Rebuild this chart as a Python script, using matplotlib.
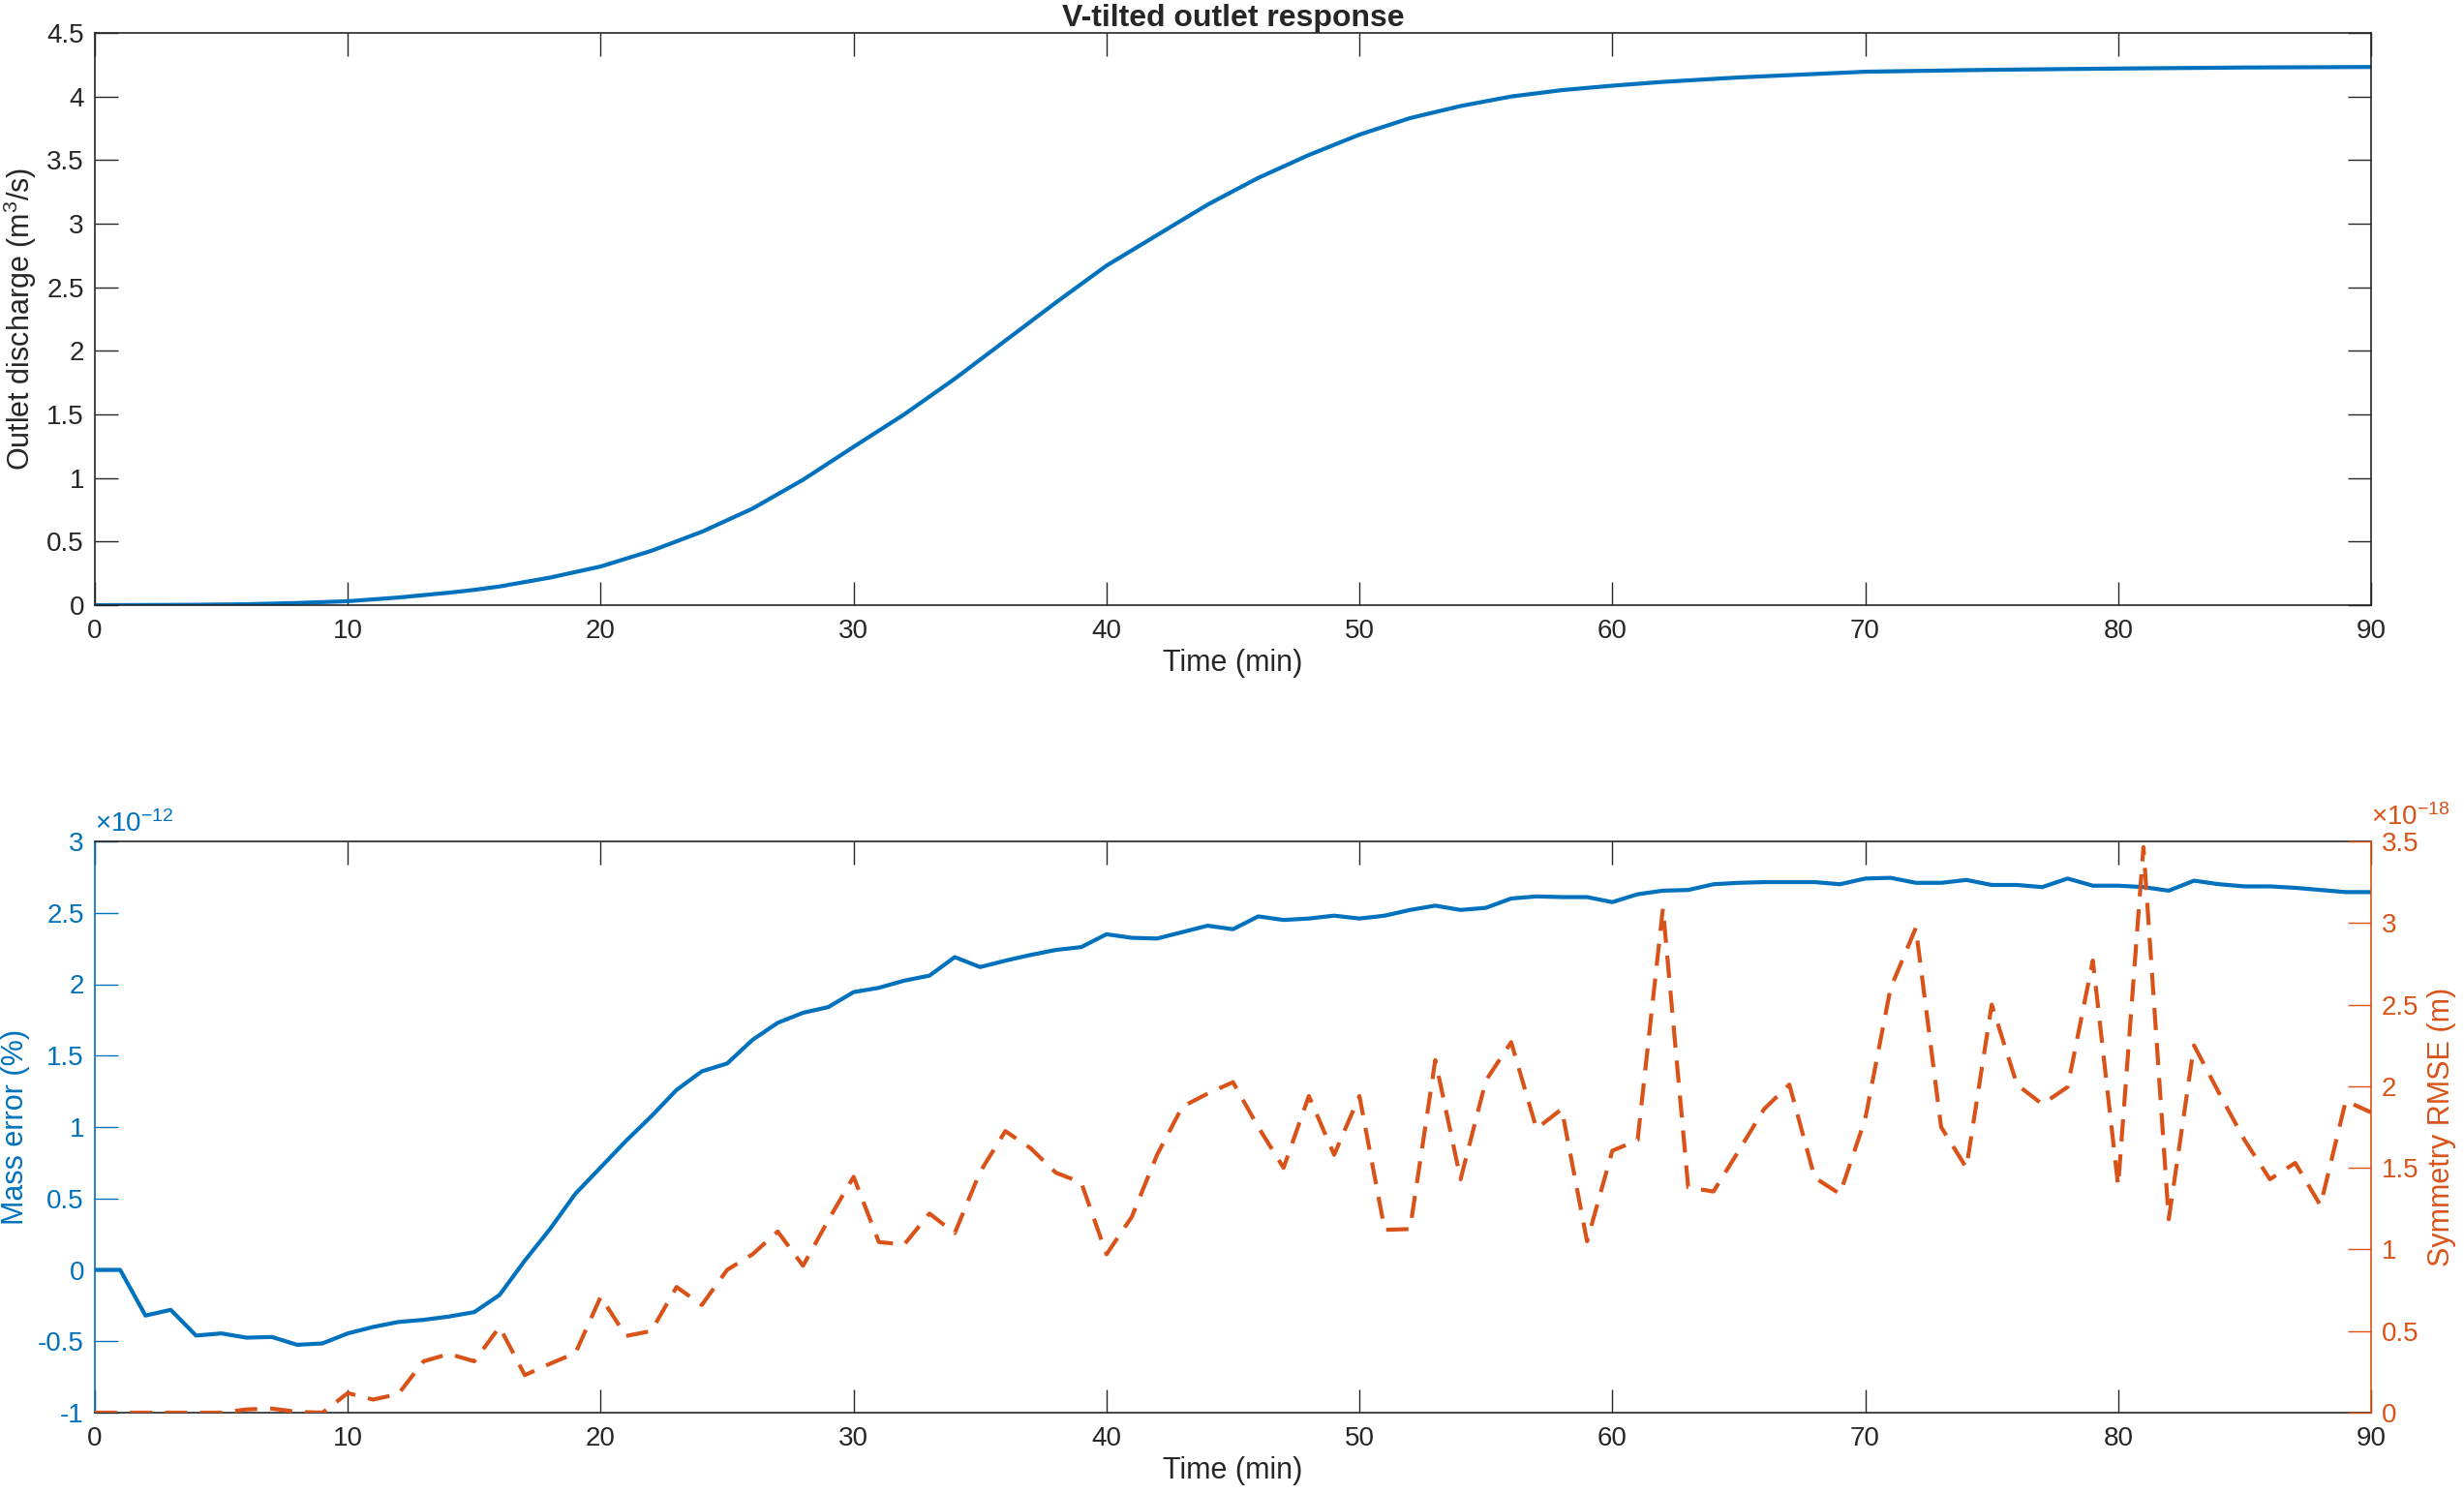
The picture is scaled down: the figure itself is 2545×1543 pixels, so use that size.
import matplotlib
matplotlib.use("Agg")
import matplotlib.pyplot as plt
import numpy as np

plt.rcParams['font.family'] = ['Liberation Sans', 'DejaVu Sans']
plt.rcParams['mathtext.fontset'] = 'custom'
plt.rcParams['mathtext.rm'] = 'Liberation Sans'
plt.rcParams['mathtext.it'] = 'Liberation Sans:italic'
plt.rcParams['axes.unicode_minus'] = False

# ---- data ----
q_time = [0, 2, 4, 6, 8, 10, 12, 14, 15, 16, 18, 20, 22, 24, 26, 28, 30, 32, 34, 36, 38,
          40, 42, 44, 46, 48, 50, 52, 54, 56, 58, 60, 62, 65, 70, 75, 80, 85, 90]
q_discharge = [0.0, 0.001, 0.003, 0.007, 0.017, 0.031, 0.06, 0.098, 0.12, 0.147, 0.217,
               0.304, 0.427, 0.577, 0.759, 0.986, 1.245, 1.50, 1.78, 2.08, 2.38,
               2.67, 2.91, 3.15, 3.36, 3.54, 3.70, 3.83, 3.925, 4.00, 4.05, 4.085, 4.115,
               4.15, 4.195, 4.21, 4.22, 4.228, 4.232]

err_time = list(range(0, 91))
mass_error_e12 = [0.0, 0.0, -0.32, -0.28, -0.46, -0.445, -0.475, -0.47, -0.525, -0.515,
                  -0.445, -0.40, -0.365, -0.35, -0.327, -0.296, -0.176, 0.065, 0.287, 0.533,
                  0.718, 0.903, 1.075, 1.26, 1.39, 1.445, 1.61, 1.73, 1.80, 1.84,
                  1.945, 1.975, 2.025, 2.06, 2.19, 2.12, 2.165, 2.205, 2.24, 2.26,
                  2.35, 2.325, 2.32, 2.365, 2.41, 2.385, 2.475, 2.45, 2.46, 2.48,
                  2.46, 2.48, 2.52, 2.55, 2.52, 2.535, 2.60, 2.615, 2.61, 2.61,
                  2.575, 2.63, 2.655, 2.66, 2.70, 2.71, 2.715, 2.715, 2.715, 2.70,
                  2.74, 2.745, 2.71, 2.71, 2.73, 2.695, 2.695, 2.68, 2.74, 2.69,
                  2.69, 2.68, 2.655, 2.725, 2.70, 2.685, 2.685, 2.675, 2.66, 2.645,
                  2.645]
sym_rmse_e18 = [0.0, 0.0, 0.0, 0.0, 0.0, 0.0, 0.02, 0.025, 0.005, 0.0,
                0.12, 0.08, 0.115, 0.315, 0.36, 0.315, 0.525, 0.23, 0.30, 0.365,
                0.71, 0.47, 0.50, 0.77, 0.66, 0.875, 0.97, 1.11, 0.90, 1.18,
                1.445, 1.045, 1.03, 1.22, 1.10, 1.475, 1.725, 1.62, 1.47, 1.41,
                0.97, 1.20, 1.58, 1.875, 1.955, 2.025, 1.75, 1.50, 1.94, 1.58,
                1.94, 1.12, 1.125, 2.16, 1.43, 2.035, 2.27, 1.74, 1.86, 1.05,
                1.605, 1.67, 3.09, 1.38, 1.355, 1.605, 1.86, 2.01, 1.44, 1.34,
                1.80, 2.60, 2.97, 1.75, 1.50, 2.50, 2.01, 1.89, 1.995, 2.77,
                1.39, 3.465, 1.185, 2.25, 1.955, 1.67, 1.43, 1.53, 1.27, 1.91,
                1.84]

top_yticks = [0, 0.5, 1, 1.5, 2, 2.5, 3, 3.5, 4, 4.5]
top_ylabels = ['0', '0.5', '1', '1.5', '2', '2.5', '3', '3.5', '4', '4.5']
left_yticks = [-1, -0.5, 0, 0.5, 1, 1.5, 2, 2.5, 3]
left_ylabels = ['-1', '-0.5', '0', '0.5', '1', '1.5', '2', '2.5', '3']
right_yticks = [0, 0.5, 1, 1.5, 2, 2.5, 3, 3.5]
right_ylabels = ['0', '0.5', '1', '1.5', '2', '2.5', '3', '3.5']
xticks = [0, 10, 20, 30, 40, 50, 60, 70, 80, 90]

# ---- style ----
BLUE = '#0072BD'
ORANGE = '#D95319'
DARK = '#262626'
FS = 20
LFS = 22
TL = 17
LW = 3.0

W, H = 2545, 1543
fig = plt.figure(figsize=(W / 100, H / 100), dpi=100)

def rect(l, t, r, b):
    return [l / W, 1 - b / H, (r - l) / W, (b - t) / H]

ax1 = fig.add_axes(rect(98, 34, 2449, 625))
ax2 = fig.add_axes(rect(98, 869, 2449, 1459))

# top panel
ax1.plot(q_time, q_discharge, color=BLUE, lw=LW, solid_joinstyle='round')
ax1.set_xlim(0, 90)
ax1.set_ylim(0, 4.5)
ax1.set_xticks(xticks)
ax1.set_xticklabels([str(v) for v in xticks])
ax1.set_yticks(top_yticks)
ax1.set_yticklabels(top_ylabels)
ax1.tick_params(direction='in', length=TL, width=1.0, colors=DARK, labelsize=FS,
                top=True, right=True)
ax1.tick_params(axis='x', pad=10)
ax1.tick_params(axis='y', pad=8)
for s in ax1.spines.values():
    s.set_color(DARK)
    s.set_linewidth(1.2)
ax1.set_xlabel('Time (min)', fontsize=LFS, color=DARK, labelpad=4)
ax1.set_ylabel('Outlet discharge (m$^3$/s)', fontsize=LFS, color=DARK, labelpad=6)
ax1.set_title('V-tilted outlet response', fontsize=LFS + 1, fontweight='bold', color=DARK, pad=5)

# bottom panel
ax2.plot(err_time, mass_error_e12, color=BLUE, lw=LW, solid_joinstyle='round')
ax2.set_xlim(0, 90)
ax2.set_ylim(-1, 3)
ax2.set_xticks(xticks)
ax2.set_xticklabels([str(v) for v in xticks])
ax2.set_yticks(left_yticks)
ax2.set_yticklabels(left_ylabels)
ax2.tick_params(axis='x', direction='in', length=TL, width=1.0, colors=DARK,
                labelsize=FS, top=True, pad=10)
ax2.tick_params(axis='y', direction='in', length=TL, width=1.0, colors=BLUE,
                labelsize=FS, pad=8, right=False)
for k in ['top', 'bottom']:
    ax2.spines[k].set_color(DARK)
    ax2.spines[k].set_linewidth(1.2)
ax2.spines['left'].set_color(BLUE)
ax2.spines['left'].set_linewidth(1.2)
ax2.spines['right'].set_visible(False)
ax2.set_xlabel('Time (min)', fontsize=LFS, color=DARK, labelpad=4)
ax2.set_ylabel('Mass error (%)', fontsize=LFS, color=BLUE, labelpad=6)
ax2.text(0.0, 1.006, r'$\times10^{-12}$', transform=ax2.transAxes, color=BLUE,
         fontsize=FS, ha='left', va='bottom')

ax3 = ax2.twinx()
ax3.plot(err_time, sym_rmse_e18, color=ORANGE, lw=LW, linestyle=(0, (5.5, 3.2)))
ax3.set_ylim(0, 3.5)
ax3.set_yticks(right_yticks)
ax3.set_yticklabels(right_ylabels)
ax3.tick_params(axis='y', direction='in', length=TL, width=1.0, colors=ORANGE,
                labelsize=FS, pad=8)
for k in ['top', 'bottom', 'left']:
    ax3.spines[k].set_visible(False)
ax3.spines['right'].set_color(ORANGE)
ax3.spines['right'].set_linewidth(1.2)
ax3.set_ylabel('Symmetry RMSE (m)', fontsize=LFS, color=ORANGE, labelpad=6)
ax3.text(1.0, 1.018, r'$\times10^{-18}$', transform=ax3.transAxes, color=ORANGE,
         fontsize=FS, ha='left', va='bottom')

fig.savefig('out.png', dpi=100)
